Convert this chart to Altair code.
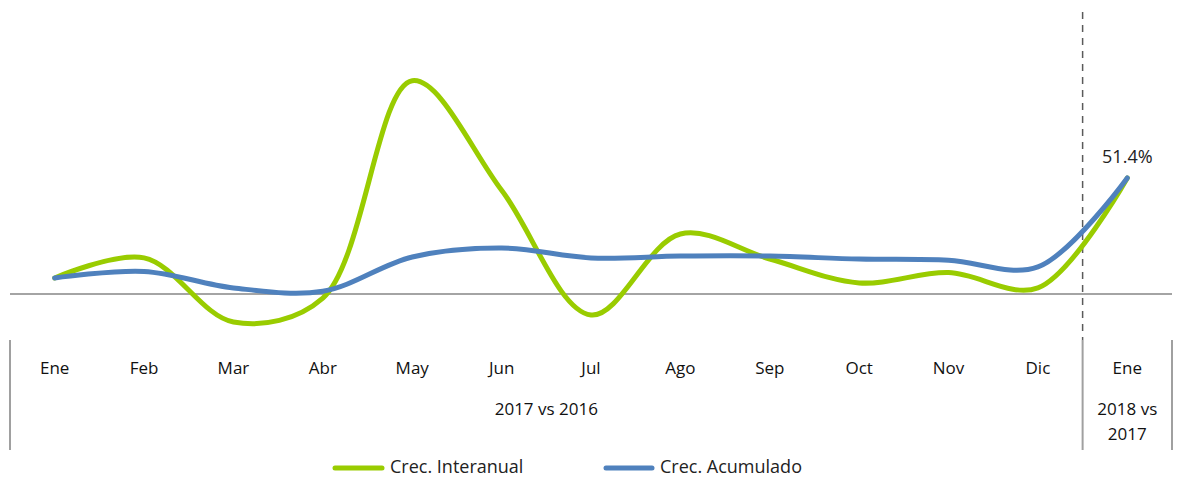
import altair as alt
import pandas as pd

months = ["Ene", "Feb", "Mar", "Abr", "May", "Jun", "Jul", "Ago", "Sep", "Oct", "Nov", "Dic", "Ene"]
interanual = [7.1, 16.0, -12.4, -1.8, 94.5, 46.0, -9.3, 26.6, 15.5, 4.9, 9.5, 2.7, 51.4]
acumulado = [7.1, 10.0, 2.7, 1.2, 16.4, 20.4, 16.0, 16.8, 16.8, 15.5, 15.0, 12.0, 51.4]
series = ["Crec. Interanual", "Crec. Acumulado"]
colors = ["#99CC00", "#4F81BD"]
periods = ["2017 vs 2016", "2018 vs\n2017"]
period_pos = [5.5, 12]
separators = [-0.5, 11.5, 12.5]

FONT = "Open Sans"

rows = []
for i, m in enumerate(months):
    rows.append({"i": i, "mes": m, "serie": series[0], "valor": interanual[i]})
    rows.append({"i": i, "mes": m, "serie": series[1], "valor": acumulado[i]})
df = pd.DataFrame(rows)

xs = alt.Scale(domain=[-0.5, 12.5], nice=False, zero=False)
ys = alt.Scale(domain=[-20.38, 125.84], nice=False, zero=False)
cs = alt.Scale(domain=series, range=colors)

X = alt.X("i:Q", scale=xs, axis=None)

zero = alt.Chart(pd.DataFrame({"y": [0]})).mark_rule(color="#868686", strokeWidth=1.5).encode(
    y=alt.Y("y:Q", scale=ys, axis=None)
)

lines = alt.Chart(df).mark_line(strokeWidth=5, interpolate="catmull-rom", strokeCap="round").encode(
    x=X,
    y=alt.Y("valor:Q", scale=ys, axis=None),
    color=alt.Color("serie:N", scale=cs, sort=series, legend=None),
)

last = alt.Chart(df).transform_filter(
    (alt.datum.i == 12) & (alt.datum.serie == series[1])
).transform_calculate(
    lab=alt.expr.format(alt.datum.valor, ".1f") + "%"
).mark_text(dy=-20, fontSize=18, font=FONT, color="#222222").encode(
    x=X, y=alt.Y("valor:Q", scale=ys, axis=None), text="lab:N"
)

sep_df = pd.DataFrame({"x": separators})
seps = alt.Chart(sep_df).mark_rule(color="#A0A0A0", strokeWidth=2).encode(
    x=alt.X("x:Q", scale=xs, axis=None), y=alt.value(330), y2=alt.value(440)
)
dashed = alt.Chart(pd.DataFrame({"x": [separators[1]]})).mark_rule(
    color="#5A5A5A", strokeWidth=1.5, strokeDash=[7, 6]
).encode(x=alt.X("x:Q", scale=xs, axis=None), y=alt.value(2), y2=alt.value(330))

mdf = pd.DataFrame({"i": list(range(len(months))), "mes": months})
mlabels = alt.Chart(mdf).mark_text(fontSize=17, font=FONT, color="#111111").encode(
    x=X, y=alt.value(359), text="mes:N"
)

pdf = pd.DataFrame({"i": period_pos, "p": periods})
plabels = alt.Chart(pdf).mark_text(
    fontSize=17, font=FONT, color="#111111", lineBreak="\n", baseline="top", lineHeight=25
).encode(x=X, y=alt.value(392), text="p:N")

# manual legend (layout positions in pixels)
leg_sym_x = [(325, 372), (596, 642)]
leg_txt_x = [380, 650]
leg_y = 458
legend_layers = []
for k, s in enumerate(series):
    sdf = pd.DataFrame({"serie": [s]})
    legend_layers.append(
        alt.Chart(sdf).mark_rule(strokeWidth=5, strokeCap="round").encode(
            x=alt.value(leg_sym_x[k][0]), x2=alt.value(leg_sym_x[k][1]), y=alt.value(leg_y),
            color=alt.Color("serie:N", scale=cs, legend=None),
        )
    )
    legend_layers.append(
        alt.Chart(sdf).mark_text(fontSize=18, font=FONT, color="#222222", align="left", baseline="middle").encode(
            x=alt.value(leg_txt_x[k]), y=alt.value(leg_y), text="serie:N"
        )
    )

chart = alt.layer(zero, seps, dashed, lines, last, mlabels, plabels, *legend_layers).properties(
    width=1162, height=330,
    background="white",
    autosize=alt.AutoSizeParams(type="none"),
    padding={"left": 2, "top": 2, "right": 4, "bottom": 138},
).configure_view(stroke=None, strokeWidth=0)

chart.save("out.html", embed_options={"renderer": "svg", "actions": False})
